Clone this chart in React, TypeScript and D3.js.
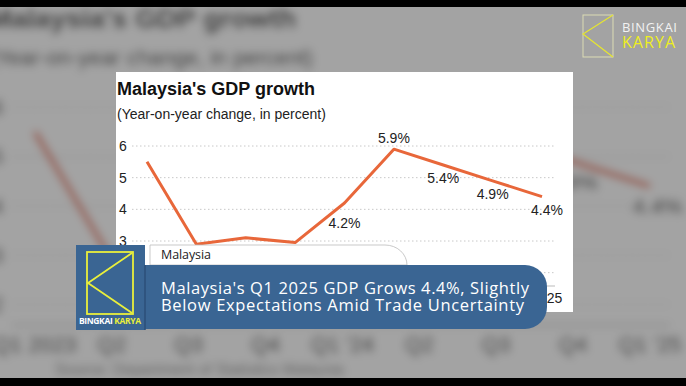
import React from 'react';
import * as d3 from 'd3';

// quarterly real GDP, year-on-year %
const quarters = ["Q1 2023", "Q2", "Q3", "Q4", "Q1 '24", "Q2", "Q3", "Q4", "Q1 '25"];
const gdpGrowth = [5.5, 2.9, 3.1, 2.95, 4.2, 5.9, 5.4, 4.9, 4.4];
const showLabel = [false, false, false, false, true, true, true, true, true];
const yTicks = [2, 3, 4, 5, 6];

const W = 686;
const H = 386;
const chartFont = "'Liberation Sans', Arial, sans-serif";
const bannerFont = "'Open Sans', Lato, sans-serif";
const orange = '#e8673a';
const blue = '#3a6593';
const yellow = '#e9ef3c';

const x = d3.scaleLinear().domain([0, quarters.length - 1]).range([147, 542]);
const y = d3.scaleLinear().domain([3, 6]).range([241, 146]);

const line = d3.line<number>()
  .x((_, i) => x(i))
  .y((d) => y(d));

function ChartBody() {
  return (
    <g fontFamily={chartFont}>
      <text x={117} y={95} fontSize={18} fontWeight="bold" fill="#111">Malaysia's GDP growth</text>
      <text x={117} y={119} fontSize={14} fill="#222">(Year-on-year change, in percent)</text>

      {yTicks.map((t) => (
        <g key={t}>
          <line x1={132} x2={555} y1={y(t)} y2={y(t)} stroke="#c8c8c8" strokeDasharray="1.5 2.5" />
          <text x={119} y={y(t) + 5} fontSize={14} fill="#222">{t}</text>
        </g>
      ))}

      <line x1={132} x2={555} y1={286} y2={286} stroke="#bbb" />
      {quarters.map((q, i) => (
        <text key={i} x={x(i)} y={303} fontSize={14} fill="#222" textAnchor="middle">{q}</text>
      ))}

      <path d={line(gdpGrowth) ?? ''} fill="none" stroke={orange} strokeWidth={3} strokeLinejoin="round" />

      {gdpGrowth.map((v, i) => {
        if (!showLabel[i]) return null;
        const above = i === 5;
        const dy = above ? -6 : i === 4 ? 25 : 18;
        return (
          <text key={i} x={x(i) + (i === 8 ? 5 : 0)} y={y(v) + dy} fontSize={14} fill="#222" textAnchor="middle">
            {v.toFixed(1)}%
          </text>
        );
      })}

      <text x={160} y={318} fontSize={10} fill="#888">Source: Department of Statistics Malaysia</text>
    </g>
  );
}

export default function App() {
  return (
    <div style={{ position: 'fixed', left: 0, top: 0, width: W, height: H }}>
      <svg width={W} height={H} viewBox={`0 0 ${W} ${H}`} style={{ display: 'block' }}>
        <defs>
          <filter id="blur" filterUnits="userSpaceOnUse" x={-50} y={-50} width={W + 100} height={H + 100}>
            <feGaussianBlur stdDeviation={4.2} />
          </filter>
          <clipPath id="card">
            <rect x={116} y={72} width={457} height={240} />
          </clipPath>
        </defs>

        {/* blurred, enlarged copy behind */}
        <rect width={W} height={H} fill="#fff" />
        <g filter="url(#blur)">
          <rect x={-50} y={-50} width={W + 100} height={H + 100} fill="#fff" />
          <g transform="translate(-194,-120) scale(1.557)">
            <ChartBody />
          </g>
        </g>
        <rect width={W} height={H} fill="#000" opacity={0.36} />

        {/* the card */}
        <rect x={116} y={72} width={457} height={240} fill="#fff" />
        <g clipPath="url(#card)">
          <ChartBody />
        </g>

        {/* lower third */}
        <path d="M150,265 V245 H385 A22,20 0 0 1 407,265 Z" fill="#fff" stroke="#bbb" strokeWidth={0.8} />
        <text x={161} y={259} fontFamily={bannerFont} fontSize={12.5} fill="#222" textLength={50}>Malaysia</text>
        <path d="M145,265 H525 A22,22 0 0 1 547,287 V307 A22,22 0 0 1 525,329 H145 Z" fill={blue} />
        <text fontFamily={bannerFont} fontSize={16.5} fill="#fff">
          <tspan x={161} y={294} textLength={368}>Malaysia's Q1 2025 GDP Grows 4.4%, Slightly</tspan>
          <tspan x={161} y={311} textLength={363}>Below Expectations Amid Trade Uncertainty</tspan>
        </text>

        <rect x={76} y={245} width={69} height={85} fill={blue} />
        <line x1={145} x2={145} y1={265} y2={330} stroke="#2c4f78" strokeWidth={1.5} />
        <rect x={87} y={252} width={46} height={62} fill="none" stroke={yellow} strokeWidth={1.8} />
        <polyline points="132,253 88,283 132,313" fill="none" stroke={yellow} strokeWidth={1.8} />
        <text x={79} y={324} fontFamily={bannerFont} fontSize={8.5} fontWeight="bold" textLength={62}>
          <tspan fill="#fff">BINGKAI </tspan>
          <tspan fill={yellow}>KARYA</tspan>
        </text>

        {/* top-right watermark */}
        <rect x={583} y={15} width={30} height={42} fill="none" stroke="#dcdcb4" strokeWidth={1} />
        <polyline points="613,15 583,34 613,57" fill="none" stroke="#e6e630" strokeWidth={1.2} />
        <text x={622} y={32} fontFamily={bannerFont} fontSize={13} fill="#f2f2f2" textLength={55}>BINGKAI</text>
        <text x={622} y={48} fontFamily={bannerFont} fontSize={16} fill="#eeee1e" textLength={53}>KARYA</text>

        {/* letterbox */}
        <rect x={0} y={0} width={W} height={7} fill="#000" />
        <rect x={0} y={378} width={W} height={8} fill="#000" />
      </svg>
    </div>
  );
}
